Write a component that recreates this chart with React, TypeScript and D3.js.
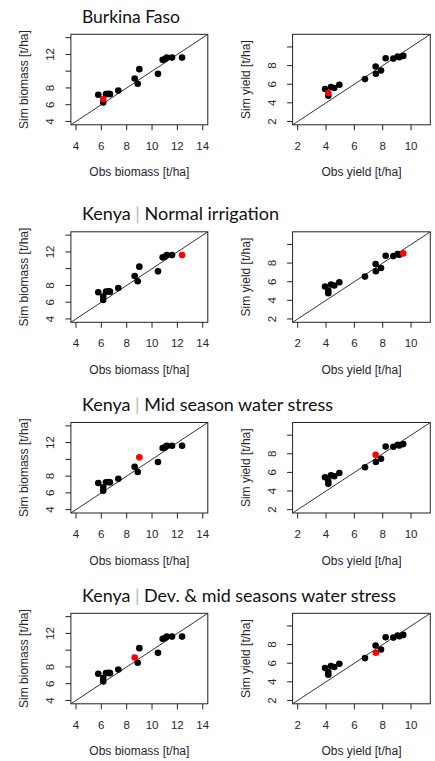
import React from 'react';
import * as d3 from 'd3';

const obsBiomass = [5.76, 6.15, 6.15, 6.37, 6.58, 6.68, 7.34, 8.63, 8.87, 9.0, 10.47, 10.84, 11.0, 11.16, 11.58, 12.37];
const simBiomass = [7.18, 6.67, 6.26, 7.26, 7.3, 7.26, 7.69, 9.12, 8.49, 10.24, 9.68, 11.35, 11.43, 11.62, 11.62, 11.62];
const obsYield = [3.93, 4.16, 4.16, 4.35, 4.58, 4.94, 6.75, 7.5, 7.52, 7.88, 8.21, 8.75, 9.06, 9.17, 9.45];
const simYield = [5.48, 5.06, 4.77, 5.7, 5.59, 5.94, 6.55, 7.9, 7.12, 7.47, 8.79, 8.75, 8.97, 8.9, 9.04];

const regions = ['Burkina Faso', 'Kenya', 'Kenya', 'Kenya'];
const treatments = ['', 'Normal irrigation', 'Mid season water stress', 'Dev. & mid seasons water stress'];
const biomassHighlight = [1, 15, 9, 7];
const yieldHighlight = [1, 14, 7, 8];

const biomassTicks = [4, 6, 8, 10, 12, 14];
const biomassXLabels = [4, 6, 8, 10, 12, 14];
const biomassYLabels = [4, 6, 8, 12];
const yieldTicks = [2, 4, 6, 8, 10];
const yieldXLabels = [2, 4, 6, 8, 10];
const yieldYLabels = [2, 4, 6, 8];

const W = 435;
const H = 761;
const rowTops = [34.3, 231.8, 422.5, 613.3];
const plotH = 90.5;
const titleWidths = [98, 197, 251, 314];

const axisFont = "'Liberation Sans', Arial, sans-serif";
const textColor = '#262630';

type PanelProps = {
  top: number;
  x0: number;
  x1: number;
  domain: [number, number];
  ticks: number[];
  xLabels: number[];
  yLabels: number[];
  xs: number[];
  ys: number[];
  hi: number;
  xTitle: string;
  yTitle: string;
  clipId: string;
};

function Panel(p: PanelProps) {
  const x = d3.scaleLinear().domain(p.domain).range([p.x0, p.x1]);
  const y = d3.scaleLinear().domain(p.domain).range([p.top + plotH, p.top]);
  const bottom = p.top + plotH;
  const tl = 5.5;
  const pts = p.xs.map((v, i) => ({ x: v, y: p.ys[i], i }));
  const ordered = [...pts.filter((d) => d.i !== p.hi), ...pts.filter((d) => d.i === p.hi)];
  const line = d3.line<[number, number]>().x((d) => x(d[0])).y((d) => y(d[1]));
  return (
    <g>
      <defs>
        <clipPath id={p.clipId}>
          <rect x={p.x0} y={p.top} width={p.x1 - p.x0} height={plotH} />
        </clipPath>
      </defs>
      <path
        d={line([[p.domain[0], p.domain[0]], [p.domain[1], p.domain[1]]]) || ''}
        stroke="#333"
        strokeWidth={1}
        fill="none"
        clipPath={`url(#${p.clipId})`}
      />
      {ordered.map((d) => (
        <circle
          key={d.i}
          cx={x(d.x)}
          cy={y(d.y)}
          r={3.3}
          fill={d.i === p.hi ? '#ff0000' : '#000'}
        />
      ))}
      <rect x={p.x0} y={p.top} width={p.x1 - p.x0} height={plotH} fill="none" stroke="#222" strokeWidth={1} />
      {p.ticks.map((t) => (
        <line key={'xt' + t} x1={x(t)} x2={x(t)} y1={bottom} y2={bottom + tl} stroke="#222" strokeWidth={1} />
      ))}
      {p.ticks.map((t) => (
        <line key={'yt' + t} x1={p.x0 - tl} x2={p.x0} y1={y(t)} y2={y(t)} stroke="#222" strokeWidth={1} />
      ))}
      {p.xLabels.map((t) => (
        <text key={'xl' + t} x={x(t)} y={bottom + 22} textAnchor="middle" dominantBaseline="middle" fontFamily={axisFont} fontSize={11.5} fill={textColor}>
          {t}
        </text>
      ))}
      {p.yLabels.map((t) => (
        <text
          key={'yl' + t}
          transform={`translate(${p.x0 - 20},${y(t)}) rotate(-90)`}
          textAnchor="middle"
          dominantBaseline="middle"
          fontFamily={axisFont}
          fontSize={11.5}
          fill={textColor}
        >
          {t}
        </text>
      ))}
      <text x={(p.x0 + p.x1) / 2} y={bottom + 48.5} textAnchor="middle" dominantBaseline="middle" fontFamily={axisFont} fontSize={12} fill={textColor}>
        {p.xTitle}
      </text>
      <text
        transform={`translate(${p.x0 - 46},${p.top + plotH / 2}) rotate(-90)`}
        textAnchor="middle"
        dominantBaseline="middle"
        fontFamily={axisFont}
        fontSize={12}
        fill={textColor}
      >
        {p.yTitle}
      </text>
    </g>
  );
}

export default function App() {
  return (
    <svg width={W} height={H} style={{ position: 'absolute', left: 0, top: 0, background: '#fff' }}>
      <rect x={0} y={0} width={W} height={H} fill="#fff" />
      {rowTops.map((top, r) => (
        <g key={r}>
          <text
            x={82}
            y={top - 11.8}
            fontFamily="Lato, 'Open Sans', sans-serif"
            fontSize={17}
            fill="#111"
            textLength={titleWidths[r]}
            lengthAdjust="spacingAndGlyphs"
          >
            <tspan>{regions[r]}</tspan>
            {treatments[r] ? (
              <>
                <tspan fill="#b5b5b5">{' | '}</tspan>
                <tspan>{treatments[r]}</tspan>
              </>
            ) : null}
          </text>
          <Panel
            top={top}
            x0={70.9}
            x1={207.8}
            domain={[3.6, 14.4]}
            ticks={biomassTicks}
            xLabels={biomassXLabels}
            yLabels={biomassYLabels}
            xs={obsBiomass}
            ys={simBiomass}
            hi={biomassHighlight[r]}
            xTitle="Obs biomass [t/ha]"
            yTitle="Sim biomass [t/ha]"
            clipId={`cb${r}`}
          />
          <Panel
            top={top}
            x0={292.6}
            x1={430.3}
            domain={[1.64, 11.36]}
            ticks={yieldTicks}
            xLabels={yieldXLabels}
            yLabels={yieldYLabels}
            xs={obsYield}
            ys={simYield}
            hi={yieldHighlight[r]}
            xTitle="Obs yield [t/ha]"
            yTitle="Sim yield [t/ha]"
            clipId={`cy${r}`}
          />
        </g>
      ))}
    </svg>
  );
}
